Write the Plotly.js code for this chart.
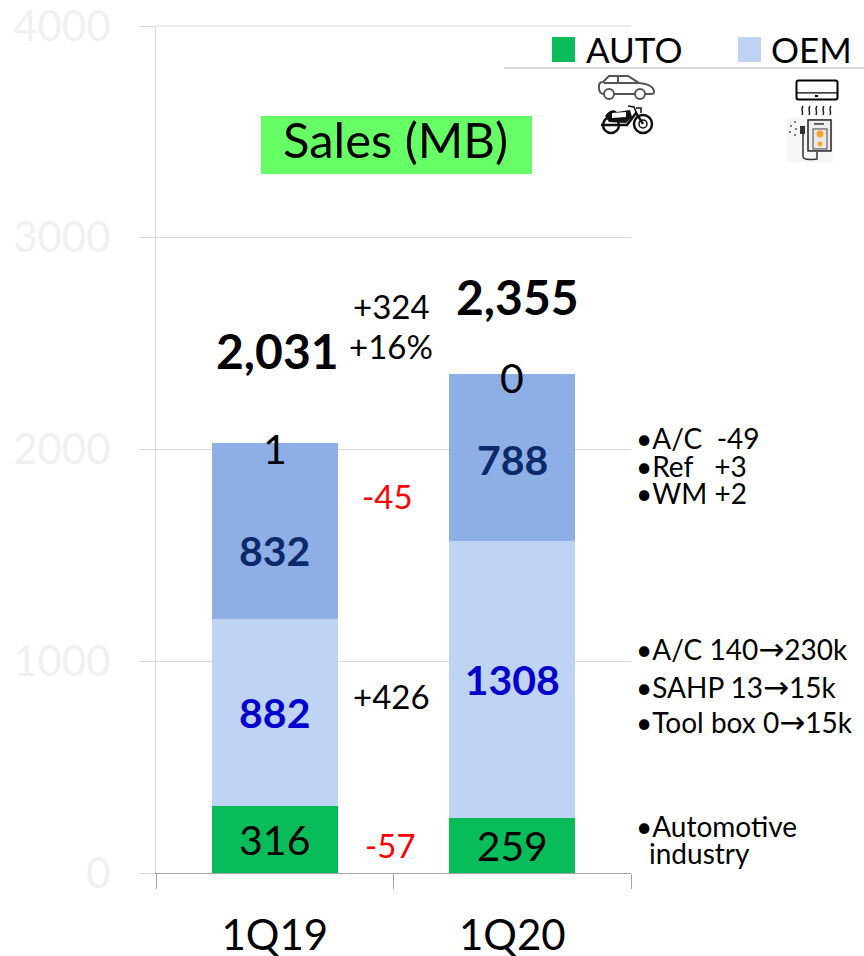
<!DOCTYPE html>
<html><head><meta charset="utf-8">
<script src="https://cdn.plot.ly/plotly-3.0.1.min.js"></script>
<style>html,body{margin:0;padding:0;background:#fff}#c{width:864px;height:956px}</style>
</head><body><div id="c"></div>
<script>
const categories = ['1Q19', '1Q20'];
const auto = [316, 259];
const oemMain = [882, 1308];
const oemOther = [832, 788];
const remainder = [1, 0];
const totals = ['2,031', '2,355'];

const W = 864, H = 956, L = 156, R = 631, T = 26, B = 873.5;
const PW = R - L, PH = B - T;
const px = x => (x - L) / PW, py = y => (B - y) / PH;
const FONT = 'Lato, Carlito, Calibri, sans-serif';
const ARROW = '<span style="font-family:\'DejaVu Sans\';font-size:31px">→</span>';

function note(text, x, y, size, color, extra) {
  return Object.assign({text, xref: 'paper', yref: 'paper', x: px(x), y: py(y), xanchor: 'left', yanchor: 'middle',
    showarrow: false, align: 'left', font: {family: FONT, size, color: color || '#000'}}, extra || {});
}
function noteC(text, x, y, size, color, extra) { return note(text, x, y, size, color, Object.assign({xanchor: 'center'}, extra || {})); }

function svg(body, w, h) {
  return 'data:image/svg+xml;utf8,' + encodeURIComponent('<svg xmlns="http://www.w3.org/2000/svg" width="' + w + '" height="' + h + '" viewBox="0 0 ' + w + ' ' + h + '">' + body + '</svg>');
}
function icon(source, x, y, w, h) {
  return {source, xref: 'paper', yref: 'paper', x: px(x), y: py(y), sizex: w / PW, sizey: h / PH, sizing: 'stretch', xanchor: 'left', yanchor: 'top', layer: 'above'};
}
const carIcon = svg('<g fill="none" stroke="#555" stroke-width="2"><path d="M6 20 C1 20 1 16 1 12 C1 9 3 8 5 8 L11 2 H30 L41 9 C50 10 56 12 56 18 C56 20 55 20 53 20 H47 M15 20 H37"/><path d="M6 9 H41 M20 2 V9"/><circle cx="11" cy="20" r="5"/><circle cx="42" cy="20" r="5"/></g>', 58, 26);
const bikeIcon = svg('<g fill="none" stroke="#111"><circle cx="11" cy="20" r="8" stroke-width="2.5"/><circle cx="43" cy="19" r="9" stroke-width="2.5"/><circle cx="43" cy="19" r="4" stroke-width="1.5"/><path d="M1 20 H27 L36 8 L43 19" stroke-width="2.5"/><path d="M28 1 L34 2 L37 9 M36 3 H41 V8" stroke-width="1.5"/></g><path d="M5 11 C9 5 14 4 17 7 L30 5 L32 12 L26 18 L9 17 Z" fill="#111"/><path d="M12 8 L26 7 L26 12 L12 13 Z" fill="#fff"/>', 54, 30);
const acIcon = svg('<rect x="1.5" y="1.5" width="41" height="19" rx="2" fill="#fff" stroke="#000" stroke-width="2"/><path d="M2 14 H42" stroke="#000" stroke-width="1.2"/><rect x="20" y="16" width="3" height="2" fill="#000"/><g fill="none" stroke="#222" stroke-width="1.5"><path d="M8 27 C5 31 9 31 7 36"/><path d="M15 27 C12 31 16 31 14 36"/><path d="M22 27 C19 31 23 31 21 36"/><path d="M29 27 C26 31 30 31 28 36"/><path d="M36 27 C33 31 37 31 35 36"/></g>', 44, 38);
const heaterIcon = svg('<rect width="46" height="44" fill="#f6f6f6"/><rect x="21" y="2" width="23" height="31" fill="#eee" stroke="#222" stroke-width="1.5"/><rect x="26" y="11" width="14" height="20" fill="#e8e8e8" stroke="#444"/><circle cx="33" cy="16" r="3.5" fill="#f5a623"/><circle cx="33" cy="26" r="2.5" fill="#f5a623"/><path d="M27 6 H37" stroke="#333" stroke-width="1.5"/><path d="M16 14 V38 C16 42 22 42 30 41 V34" fill="none" stroke="#333" stroke-width="1.5"/><path d="M13 8 H18 V16 H13 Z" fill="#333"/><g fill="#555"><circle cx="8" cy="4" r="1"/><circle cx="4" cy="8" r="1"/><circle cx="9" cy="11" r="1"/><circle cx="3" cy="14" r="1"/><circle cx="8" cy="17" r="1"/></g>', 46, 44);

const traces = [
  {name: 'AUTO', x: categories, y: auto, marker: {color: '#08bc5a'}, text: auto.map(String), textfont: {color: '#000', size: 41, family: FONT}},
  {name: 'OEM', x: categories, y: oemMain, marker: {color: '#bfd4f4'}, text: oemMain.map(String), textfont: {color: '#0000cc', size: 41, family: FONT, weight: 700}},
  {name: 'OEM other', x: categories, y: oemOther, marker: {color: '#8eaee6'}},
  {name: 'Other', x: categories, y: remainder, marker: {color: '#8eaee6'}}
].map(t => Object.assign({type: 'bar', textposition: t.text ? 'inside' : 'none', insidetextanchor: 'middle', textangle: 0, showlegend: false, hoverinfo: 'skip', cliponaxis: false}, t));

const annotations = [
  {x: categories[0], y: 1521, text: String(oemOther[0]), font: {family: FONT, size: 41, color: '#0b2a6b', weight: 700}},
  {x: categories[1], y: 1955, text: String(oemOther[1]), font: {family: FONT, size: 41, color: '#0b2a6b', weight: 700}},
  {x: categories[0], y: 2003, text: String(remainder[0]), font: {family: FONT, size: 41, color: '#000'}},
  {x: categories[1], y: 2342, text: String(remainder[1]), font: {family: FONT, size: 41, color: '#000'}}
].map(a => Object.assign({xref: 'x', yref: 'y', showarrow: false, xanchor: 'center', yanchor: 'middle'}, a)).concat([
  noteC(totals[0], 277, 351, 48, '#000', {font: {family: FONT, size: 48, color: '#000', weight: 700}}),
  noteC(totals[1], 517, 297, 48, '#000', {font: {family: FONT, size: 48, color: '#000', weight: 700}}),
  noteC('+324', 391, 306, 33),
  noteC('+16%', 391, 346, 33),
  noteC('-45', 387, 496, 33, '#ff0000'),
  noteC('+426', 391, 696, 33),
  noteC('-57', 390, 845, 33, '#ff0000'),
  noteC('Sales (MB)', 395.5, 139, 49, '#000'),
  note('AUTO', 584, 49, 35),
  note('OEM', 769, 49, 35),
  note('•A/C  -49', 634, 438, 28),
  note('•Ref   +3', 634, 466, 28),
  note('•WM +2', 634, 493, 28),
  note('•A/C 140' + ARROW + '230k', 634, 649, 28),
  note('•SAHP 13' + ARROW + '15k', 634, 687, 28),
  note('•Tool box 0' + ARROW + '15k', 634, 722, 28),
  note('•Automotive', 634, 826, 28),
  note('industry', 647, 853, 28)
]);

const shapes = [
  {type: 'rect', xref: 'paper', yref: 'paper', x0: px(261), x1: px(532), y0: py(116), y1: py(174), fillcolor: '#66ff66', line: {width: 0}},
  {type: 'rect', xref: 'paper', yref: 'paper', x0: px(552), x1: px(575), y0: py(37), y1: py(62), fillcolor: '#08bc5a', line: {width: 0}},
  {type: 'rect', xref: 'paper', yref: 'paper', x0: px(738), x1: px(761), y0: py(37), y1: py(62), fillcolor: '#bfd4f4', line: {width: 0}},
  {type: 'line', xref: 'paper', yref: 'paper', x0: px(504), x1: px(864), y0: py(68), y1: py(68), line: {color: '#d9d9d9', width: 2}},
  {type: 'line', xref: 'paper', yref: 'paper', x0: 0, x1: 1, y0: 1, y1: 1, line: {color: '#d9d9d9', width: 1}}
];

const layout = {
  width: W, height: H, margin: {l: L, r: W - R, t: T, b: H - B}, barmode: 'stack', bargap: 0.47,
  paper_bgcolor: '#fff', plot_bgcolor: '#fff', showlegend: false, font: {family: FONT},
  xaxis: {type: 'category', range: [-0.5, 1.5], tickson: 'boundaries', ticks: 'outside', ticklen: 15, tickcolor: '#a6a6a6', tickwidth: 1,
    showline: true, linecolor: '#a6a6a6', linewidth: 1, tickfont: {size: 42, color: '#000', family: FONT}, ticklabelstandoff: 26, ticklabeloverflow: 'allow', showgrid: false, zeroline: false},
  yaxis: {range: [0, 4000], tick0: 0, dtick: 1000, showline: true, linecolor: '#d9d9d9', linewidth: 1, gridcolor: '#d9d9d9', gridwidth: 1,
    ticks: 'outside', ticklen: 16, tickcolor: '#d9d9d9', tickfont: {size: 42, color: '#f0f0f0', family: FONT}, ticklabelstandoff: 20, ticklabeloverflow: 'allow', zeroline: false, tickformat: 'd'},
  annotations, shapes,
  images: [icon(carIcon, 598, 74, 58, 26), icon(bikeIcon, 600, 105, 54, 30), icon(acIcon, 795, 79, 44, 38), icon(heaterIcon, 787, 118, 46, 44)]
};
Plotly.newPlot('c', traces, layout, {displayModeBar: false, staticPlot: true});
</script></body></html>
